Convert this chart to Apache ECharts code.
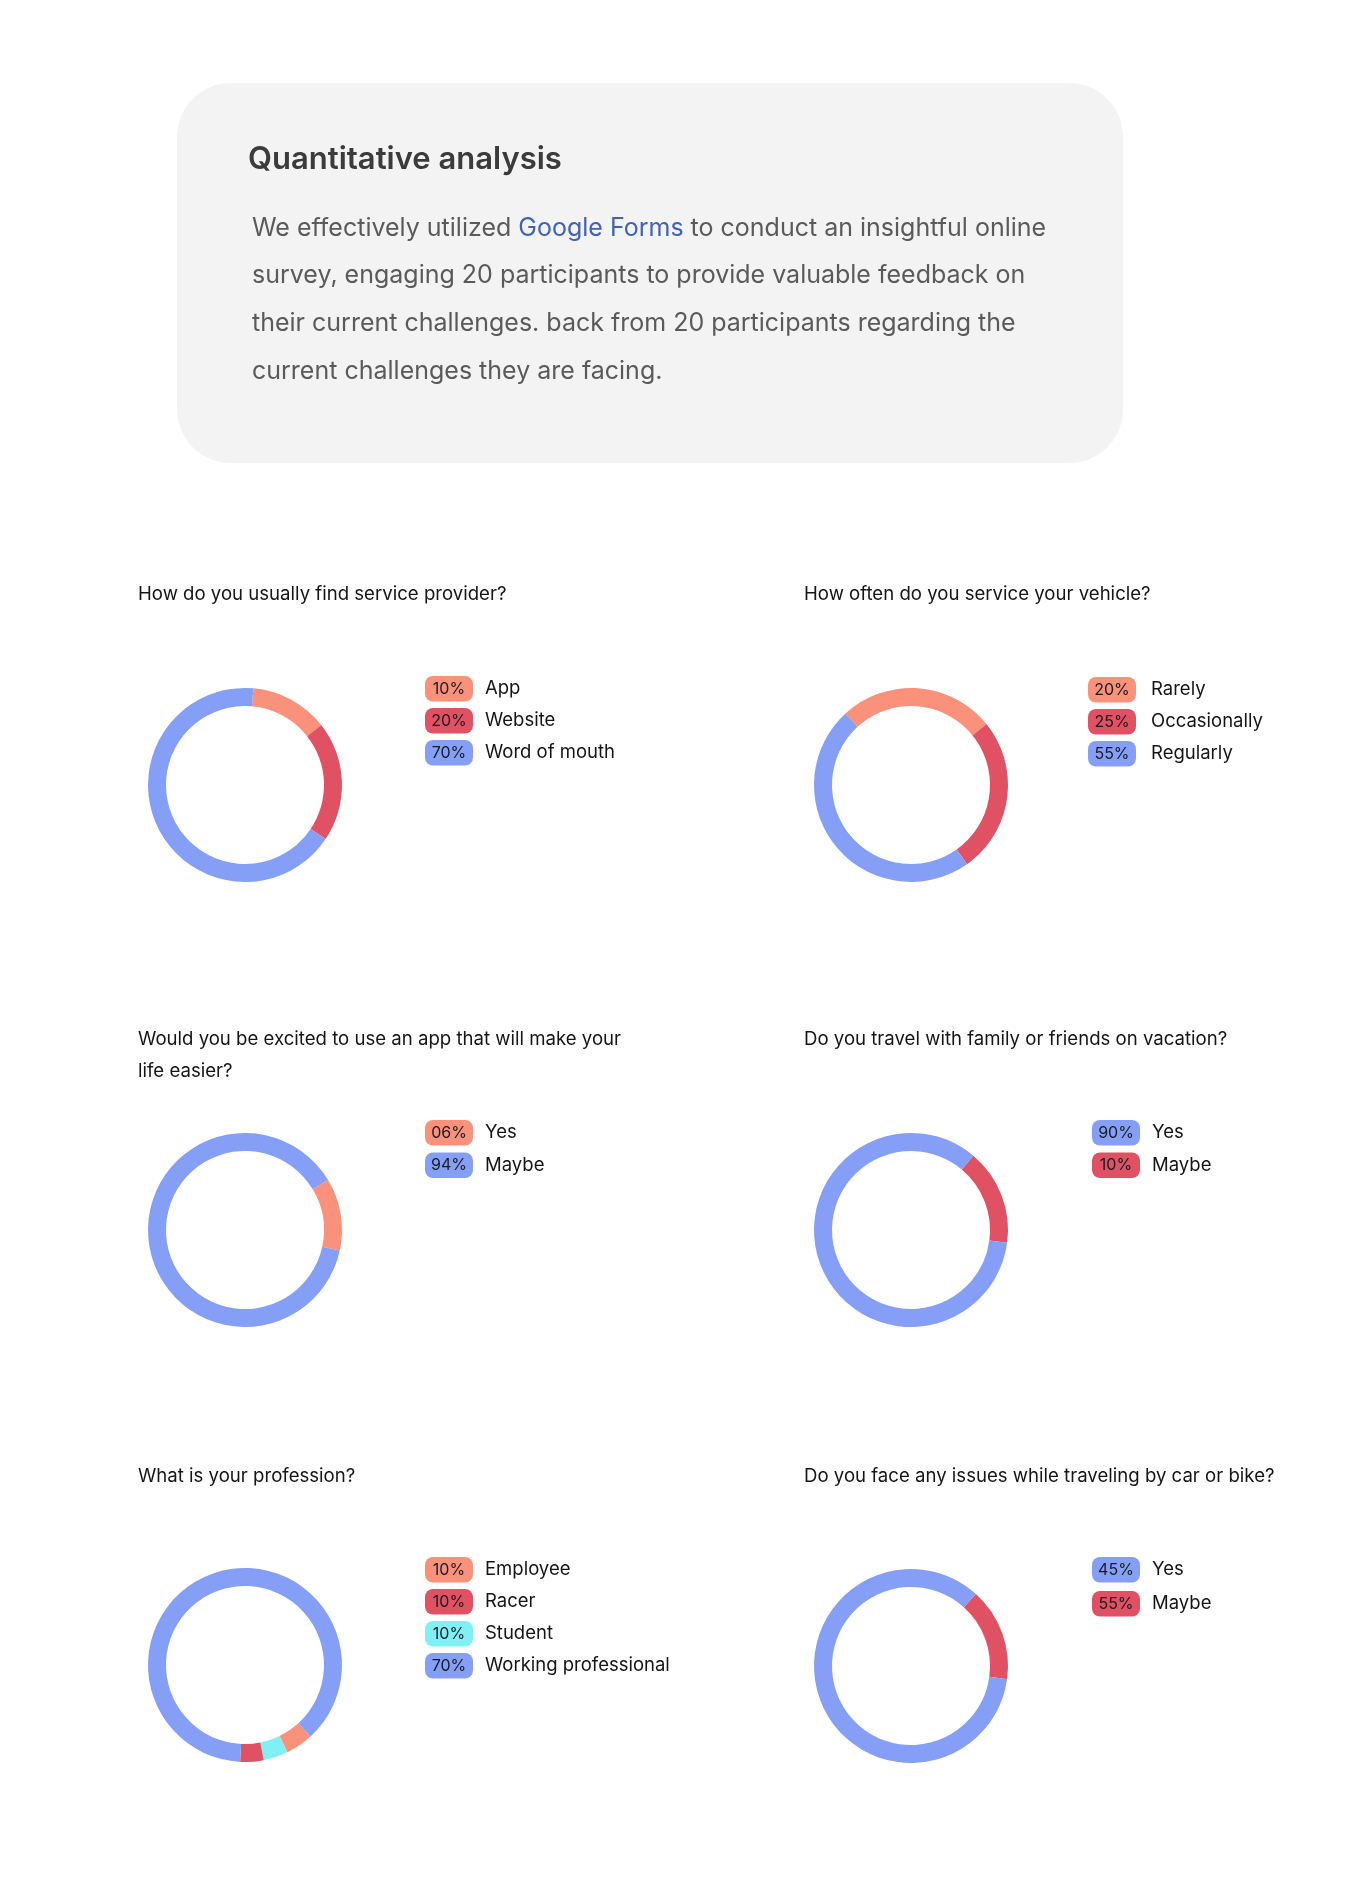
<!DOCTYPE html>
<html>
<head>
<meta charset="utf-8">
<script src="https://cdn.jsdelivr.net/npm/echarts@6/dist/echarts.min.js"></script>
<style>
html,body{margin:0;padding:0;background:#fff;}
#chart{width:1355px;height:1893px;}
</style>
</head>
<body>
<div id="chart"></div>
<script>
// ---- Data ----
const headerTitle = 'Quantitative analysis';
const introLines = [
  ['We effectively utilized ', 'Google Forms', ' to conduct an insightful online'],
  ['survey, engaging 20 participants to provide valuable feedback on'],
  ['their current challenges. back from 20 participants regarding the'],
  ['current challenges they are facing.']
];

const questions = [
  'How do you usually find service provider?',
  'How often do you service your vehicle?',
  'Would you be excited to use an app that will make your\nlife easier?',
  'Do you travel with family or friends on vacation?',
  'What is your profession?',
  'Do you face any issues while traveling by car or bike?'
];

// legend entries (order shown), badge text and colour key
const q1Names = ['App', 'Website', 'Word of mouth'];
const q1Badges = ['10%', '20%', '70%'];
const q1Colors = ['o', 'r', 'b'];
const q2Names = ['Rarely', 'Occasionally', 'Regularly'];
const q2Badges = ['20%', '25%', '55%'];
const q2Colors = ['o', 'r', 'b'];
const q3Names = ['Yes', 'Maybe'];
const q3Badges = ['06%', '94%'];
const q3Colors = ['o', 'b'];
const q4Names = ['Yes', 'Maybe'];
const q4Badges = ['90%', '10%'];
const q4Colors = ['b', 'r'];
const q5Names = ['Employee', 'Racer', 'Student', 'Working professional'];
const q5Badges = ['10%', '10%', '10%', '70%'];
const q5Colors = ['o', 'r', 'c', 'b'];
const q6Names = ['Yes', 'Maybe'];
const q6Badges = ['45%', '55%'];
const q6Colors = ['b', 'r'];

// arc sizes as drawn (clockwise order), read from the ring segments
const q1ArcNames = ['App', 'Website', 'Word of mouth'];
const q1Arcs = [13, 20, 67];
const q2ArcNames = ['Rarely', 'Occasionally', 'Regularly'];
const q2Arcs = [26, 26, 48];
const q3ArcNames = ['Yes', 'Maybe'];
const q3Arcs = [12, 88];
const q4ArcNames = ['Maybe', 'Yes'];
const q4Arcs = [16, 84];
const q5ArcNames = ['Employee', 'Student', 'Racer', 'Working professional'];
const q5Arcs = [4.6, 4.1, 3.9, 87.4];
const q6ArcNames = ['Maybe', 'Yes'];
const q6Arcs = [15.5, 84.5];

// ---- Styles ----
const FONT = 'Inter, "Noto Sans", sans-serif';
const COL = { o: '#F9917B', r: '#E05263', b: '#859FF6', c: '#80F0F7' };

const charts = [
  { names: q1Names, badges: q1Badges, keys: q1Colors, arcNames: q1ArcNames, arcs: q1Arcs, center: [245, 785], start: 85,
    legend: { left: 420, top: 676, gap: 6.5, pad: 12 }, q: { x: 138, y: 594.5 } },
  { names: q2Names, badges: q2Badges, keys: q2Colors, arcNames: q2ArcNames, arcs: q2Arcs, center: [911, 785], start: 132.5,
    legend: { left: 1083, top: 677, gap: 6.5, pad: 15 }, q: { x: 804, y: 594.5 } },
  { names: q3Names, badges: q3Badges, keys: q3Colors, arcNames: q3ArcNames, arcs: q3Arcs, center: [245, 1230], start: 31,
    legend: { left: 420, top: 1120, gap: 7, pad: 12 }, q: { x: 138, y: 1055.5 } },
  { names: q4Names, badges: q4Badges, keys: q4Colors, arcNames: q4ArcNames, arcs: q4Arcs, center: [911, 1230], start: 50,
    legend: { left: 1087, top: 1120, gap: 7, pad: 12 }, q: { x: 804, y: 1039.5 } },
  { names: q5Names, badges: q5Badges, keys: q5Colors, arcNames: q5ArcNames, arcs: q5Arcs, center: [245, 1665], start: -47.5,
    legend: { left: 420, top: 1557, gap: 6.5, pad: 12 }, q: { x: 138, y: 1476 } },
  { names: q6Names, badges: q6Badges, keys: q6Colors, arcNames: q6ArcNames, arcs: q6Arcs, center: [911, 1666], start: 48,
    legend: { left: 1087, top: 1557, gap: 8.5, pad: 12 }, q: { x: 804, y: 1476 } }
];

function badgeRich(pad) {
  const rich = {};
  Object.keys(COL).forEach(k => {
    rich[k] = {
      backgroundColor: COL[k], borderRadius: 8, width: 48, height: 25.5, lineHeight: 25.5,
      align: 'center', fontSize: 16, color: '#1a1a22', fontFamily: FONT
    };
  });
  rich.t = { fontSize: 18.5, color: '#151515', fontFamily: FONT, padding: [0, 0, 0, pad], lineHeight: 25.5 };
  return rich;
}

const series = [];
const legends = [];
const graphics = [];

// card
graphics.push({ type: 'rect', shape: { x: 177, y: 83, width: 946, height: 380, r: 54 }, style: { fill: '#f3f3f3' }, z: 0 });
graphics.push({ type: 'text', x: 248, y: 159.5, style: { text: headerTitle, font: '600 31px ' + FONT, fill: '#3b3b3b', textVerticalAlign: 'middle' }, z: 1 });
introLines.forEach((parts, i) => {
  const text = parts.map((p, j) => (parts.length === 3 && j === 1) ? '{g|' + p + '}' : '{a|' + p + '}').join('');
  graphics.push({ type: 'text', x: 252, y: 228 + i * 47.9, style: {
    text: text, textVerticalAlign: 'middle',
    rich: { a: { fontSize: 25, fontFamily: FONT, fill: '#5a5a5a', color: '#5a5a5a' },
            g: { fontSize: 25, fontFamily: FONT, fill: '#4362B6', color: '#4362B6' } }
  }, z: 1 });
});

charts.forEach((c, i) => {
  // question text
  graphics.push({ type: 'text', x: c.q.x, y: c.q.y, style: {
    text: questions[i], font: '18.6px ' + FONT, fill: '#151515', textVerticalAlign: 'middle', lineHeight: 32.7
  } });
  const colorOf = {};
  c.names.forEach((n, k) => { colorOf[n] = COL[c.keys[k]]; });
  const badgeOf = {};
  c.names.forEach((n, k) => { badgeOf[n] = { b: c.badges[k], k: c.keys[k] }; });
  series.push({
    type: 'pie', name: 'q' + i, radius: [79, 97], center: c.center, startAngle: c.start, clockwise: true,
    silent: true, label: { show: false }, labelLine: { show: false }, animation: false,
    legendHoverLink: false,
    data: c.arcNames.map((n, k) => ({ name: n, value: c.arcs[k], itemStyle: { color: colorOf[n] } }))
  });
  legends.push({
    orient: 'vertical', left: c.legend.left, top: c.legend.top, padding: 0,
    itemWidth: 0, itemHeight: 0, itemGap: c.legend.gap, selectedMode: false,
    icon: 'rect', data: c.names.map(n => ({ name: n })),
    formatter: (name) => '{' + badgeOf[name].k + '|' + badgeOf[name].b + '}{t|' + name + '}',
    textStyle: { padding: 0, rich: badgeRich(c.legend.pad) }
  });
});

const chart = echarts.init(document.getElementById('chart'), null, { renderer: 'canvas' });
chart.setOption({
  backgroundColor: '#ffffff',
  animation: false,
  graphic: graphics,
  legend: legends,
  series: series
});
</script>
</body>
</html>
